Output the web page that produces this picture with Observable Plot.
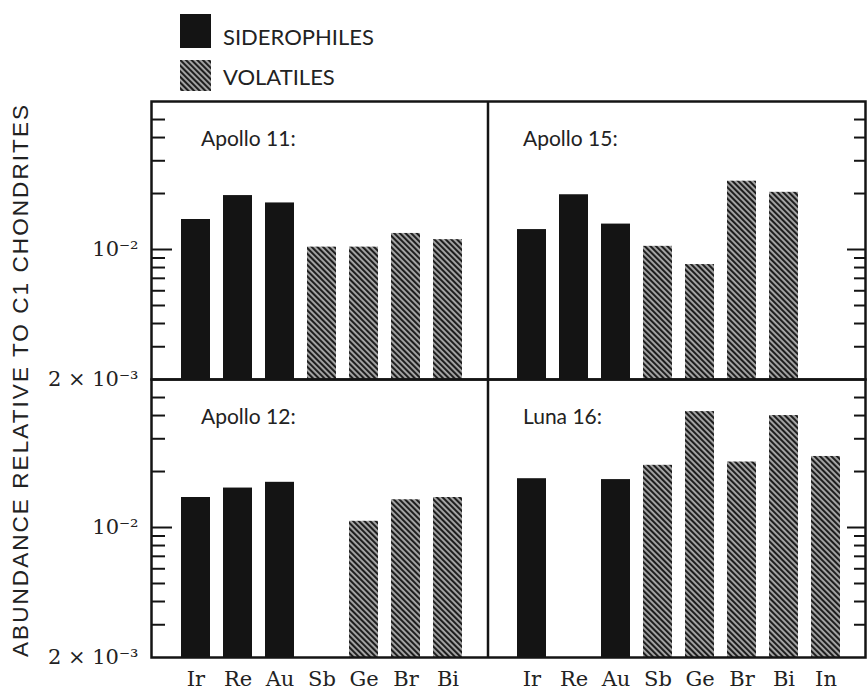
<!DOCTYPE html>
<html>
<head>
<meta charset="utf-8">
<script src="https://cdn.jsdelivr.net/npm/d3@7"></script>
<script src="https://cdn.jsdelivr.net/npm/@observablehq/plot@0.6"></script>
<style>
  html, body { margin: 0; padding: 0; background: #fff; }
  #wrap { position: relative; width: 867px; height: 691px; overflow: hidden; background: #fff; }
  #legend { position: absolute; left: 0; top: 0; }
  #chart { position: absolute; left: 0; top: 95px; }
  #ytitle { position: absolute; left: 0; top: 0; pointer-events: none; }
</style>
</head>
<body>
<div id="wrap">
  <svg id="legend" width="867" height="95"></svg>
  <div id="chart"></div>
  <svg id="ytitle" width="40" height="691"></svg>
</div>
<script>
// ---------- data ----------
const elementsLeft = ["Ir", "Re", "Au", "Sb", "Ge", "Br", "Bi"];
const elementsRight = ["Ir", "Re", "Au", "Sb", "Ge", "Br", "Bi", "In"];
const siderophiles = ["Ir", "Re", "Au"];
const apollo11 = [0.0145, 0.0195, 0.0178, 0.0103, 0.0103, 0.0122, 0.0113];
const apollo15 = [0.0128, 0.0197, 0.0137, 0.0104, 0.0083, 0.0233, 0.0203];
const apollo12 = [0.0145, 0.0163, 0.0175, null, 0.0108, 0.0141, 0.0145];
const luna16 = [0.0183, null, 0.0181, 0.0216, 0.0420, 0.0225, 0.0400, 0.0241];
const panelTitles = ["Apollo 11:", "Apollo 15:", "Apollo 12:", "Luna 16:"];
const legendLabels = ["SIDEROPHILES", "VOLATILES"];
const yTitle = "ABUNDANCE RELATIVE TO C1 CHONDRITES";
const yDomain = [0.002, 0.0625];
const yLabelTicks = [0.002, 0.01];
const yLabelText = ["2 \u00d7 10\u207b\u00b3", "10\u207b\u00b2"];
const yMinorTicks = [0.003, 0.004, 0.005, 0.006, 0.007, 0.008, 0.009, 0.02, 0.03, 0.04, 0.05];
const yMajorTicks = [0.01];

// ---------- build tables ----------
const panels = [
  {row: "top", col: "L", title: panelTitles[0], els: elementsLeft, vals: apollo11},
  {row: "top", col: "R", title: panelTitles[1], els: elementsLeft, vals: apollo15},
  {row: "bottom", col: "L", title: panelTitles[2], els: elementsLeft, vals: apollo12},
  {row: "bottom", col: "R", title: panelTitles[3], els: elementsRight, vals: luna16}
];
const bars = [];
for (const p of panels) {
  p.els.forEach((el, i) => {
    const v = p.vals[i];
    if (v != null) bars.push({row: p.row, key: p.col + ":" + el, el, value: v, sid: siderophiles.includes(el)});
  });
}
const titles = panels.map(p => ({row: p.row, col: p.col, key: p.col + ":Ir", title: p.title}));
const xDomain = [...elementsLeft.map(e => "L:" + e), "gap", ...elementsRight.map(e => "R:" + e)];

// ---------- layout ----------
const W = 867, H = 596, mL = 151, mR = 2, mT = 6, mB = 34;
const innerW = W - mL - mR;
const ink = "#141414";
const titleFont = "Lato, 'Open Sans', sans-serif";
const serifFont = "'DejaVu Serif', 'Liberation Serif', serif";

const chart = Plot.plot({
  width: W, height: H,
  marginLeft: mL, marginRight: mR, marginTop: mT, marginBottom: mB,
  style: {background: "transparent", color: ink},
  fy: {domain: ["top", "bottom"], padding: 0, axis: null, label: null},
  x: {domain: xDomain, paddingInner: 0.32, paddingOuter: 0.6, align: 0.55, label: null},
  y: {type: "log", domain: yDomain, label: null},
  marks: [
    Plot.barY(bars.filter(d => d.sid), {x: "key", y1: yDomain[0], y2: "value", fy: "row", fill: ink}),
    Plot.barY(bars.filter(d => !d.sid), {x: "key", y1: yDomain[0], y2: "value", fy: "row", fill: "url(#hatch)"}),
    Plot.ruleY(yMinorTicks, {y: d => d, insetRight: innerW - 14, stroke: ink, strokeWidth: 2}),
    Plot.ruleY(yMajorTicks, {y: d => d, insetRight: innerW - 21, stroke: ink, strokeWidth: 2}),
    Plot.ruleY(yMinorTicks, {y: d => d, insetLeft: innerW - 11, stroke: ink, strokeWidth: 2}),
    Plot.ruleY(yMajorTicks, {y: d => d, insetLeft: innerW - 18, stroke: ink, strokeWidth: 2}),
    Plot.ruleX(["gap"], {x: d => d, dx: -2, stroke: ink, strokeWidth: 2.5}),
    Plot.frame({stroke: ink, strokeWidth: 2.5}),
    Plot.text(titles.filter(d => d.col === "L"), {x: "key", fy: "row", text: "title", frameAnchor: "top",
      textAnchor: "start", lineAnchor: "top", dx: 5, dy: 30, fontSize: 21, fontFamily: titleFont, fill: "#222"}),
    Plot.text(titles.filter(d => d.col === "R"), {x: "key", fy: "row", text: "title", frameAnchor: "top",
      textAnchor: "start", lineAnchor: "top", dx: -9, dy: 30, fontSize: 21, fontFamily: titleFont, fill: "#222"}),
    Plot.axisX({tickSize: 0, tickPadding: 14, label: null,
      tickFormat: d => d === "gap" ? "" : d.split(":")[1],
      fontSize: 21, fontFamily: serifFont, fill: "#222"}),
    Plot.axisY(yLabelTicks, {tickSize: 0, tickPadding: 13, label: null,
      tickFormat: d => yLabelText[yLabelTicks.indexOf(d)],
      fontSize: 21, fontFamily: serifFont, fill: "#222"})
  ]
});

// hatch pattern
const ns = "http://www.w3.org/2000/svg";
function addHatch(svg, id) {
  const defs = document.createElementNS(ns, "defs");
  defs.innerHTML = `<pattern id="${id}" patternUnits="userSpaceOnUse" width="4" height="4" patternTransform="rotate(-45)">
    <rect width="4" height="4" fill="#a9a9a9"/><rect width="2.1" height="4" fill="#1e1e1e"/></pattern>`;
  svg.insertBefore(defs, svg.firstChild);
}
addHatch(chart, "hatch");
document.getElementById("chart").appendChild(chart);

// legend
const leg = d3.select("#legend");
addHatch(leg.node(), "hatchLegend");
leg.append("rect").attr("x", 180).attr("y", 14).attr("width", 31).attr("height", 34).attr("fill", ink);
leg.append("rect").attr("x", 180).attr("y", 60).attr("width", 31).attr("height", 31).attr("fill", "url(#hatchLegend)");
leg.selectAll("text.lab").data(legendLabels).join("text")
  .attr("class", "lab")
  .attr("x", 223).attr("y", (d, i) => i === 0 ? 45 : 85)
  .attr("font-family", titleFont).attr("font-size", 22).attr("fill", "#222")
  .text(d => d);

// y title
d3.select("#ytitle").append("text")
  .attr("transform", "translate(20,381) rotate(-90)")
  .attr("text-anchor", "middle").attr("dominant-baseline", "central")
  .attr("font-family", "'Liberation Sans', Arial, sans-serif").attr("font-size", 22.5).attr("fill", "#222")
  .attr("textLength", 552).attr("lengthAdjust", "spacing")
  .text(yTitle);
</script>
</body>
</html>
